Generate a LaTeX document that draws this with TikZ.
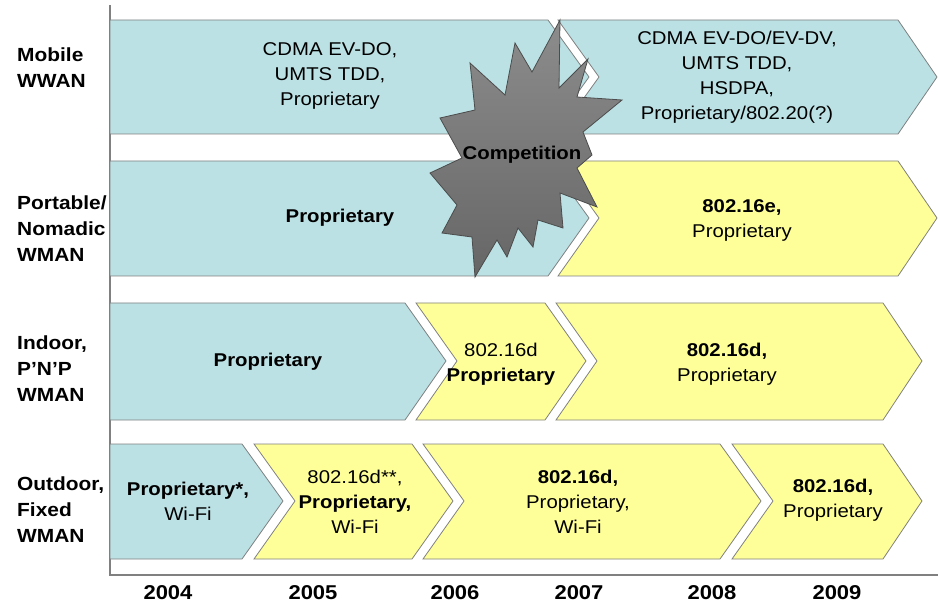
\documentclass[tikz,border=0pt]{standalone}
\usepackage{fontspec}
\setmainfont[FakeStretch=1.1]{Liberation Sans}

\definecolor{techblue}{RGB}{187,225,228}
\definecolor{techyellow}{RGB}{255,255,153}
\definecolor{edgegray}{RGB}{128,128,128}

\begin{document}
\begin{tikzpicture}[x=1pt, y=-1pt,
  bluebox/.style={fill=techblue, draw=edgegray, line width=0.8pt},
  yellowbox/.style={fill=techyellow, draw=edgegray, line width=0.8pt},
  boxtext/.style={align=center, inner sep=0pt, font=\fontsize{18.5}{25}\selectfont},
  rowlabel/.style={anchor=west, align=left, inner sep=0pt, font=\bfseries\fontsize{19}{26}\selectfont},
  yearlabel/.style={inner sep=0pt, font=\bfseries\fontsize{20}{24}\selectfont}]

\useasboundingbox (0,0) rectangle (938,604);

% Axes
\draw[edgegray, line width=1.5pt] (110,5) -- (110,575) -- (938,575);

% Mobile WWAN
\draw[bluebox] (110,20) -- (548,20) -- (589,77) -- (548,134) -- (110,134) -- cycle;
\draw[bluebox] (558,20) -- (898,20) -- (937,77) -- (898,134) -- (558,134) -- (599,77) -- cycle;

% Portable/Nomadic WMAN
\draw[bluebox] (110,161) -- (548,161) -- (589,218) -- (548,276) -- (110,276) -- cycle;
\draw[yellowbox] (558,161) -- (898,161) -- (937,218) -- (898,276) -- (558,276) -- (599,218) -- cycle;

% Indoor, P'N'P WMAN
\draw[bluebox] (110,303) -- (405,303) -- (446,361) -- (405,420) -- (110,420) -- cycle;
\draw[yellowbox] (416,303) -- (545,303) -- (586,361) -- (545,420) -- (416,420) -- (457,361) -- cycle;
\draw[yellowbox] (556,303) -- (883,303) -- (922,361) -- (883,420) -- (556,420) -- (597,361) -- cycle;

% Outdoor, Fixed WMAN
\draw[bluebox] (110,444) -- (242,444) -- (283,501) -- (242,559) -- (110,559) -- cycle;
\draw[yellowbox] (254,444) -- (412,444) -- (453,501) -- (412,559) -- (254,559) -- (295,501) -- cycle;
\draw[yellowbox] (423,444) -- (720,444) -- (761,501) -- (720,559) -- (423,559) -- (464,501) -- cycle;
\draw[yellowbox] (732,444) -- (883,444) -- (922,501) -- (883,559) -- (732,559) -- (773,501) -- cycle;

% Competition burst
\draw[draw=gray!60!black, line width=0.8pt, top color=gray!90, middle color=gray!6, bottom color=gray!80!black]
  (560,20) -- (559,88) -- (588,59) -- (577,97) -- (622,100) -- (583,132) -- (592,155)
  -- (577,168) -- (597,207) -- (560,193) -- (563,228) -- (538,220) -- (533,247)
  -- (518,228) -- (507,257) -- (497,240) -- (475,277) -- (472,237) -- (442,233)
  -- (457,205) -- (430,173) -- (462,158) -- (440,118) -- (475,110) -- (470,63)
  -- (505,95) -- (515,43) -- (532,72) -- cycle;

% Texts in the arrows
\node[boxtext] (mobA) at (330,76) {CDMA EV-DO,\\UMTS TDD,\\Proprietary};
\node[boxtext] (mobB) at (737,77) {CDMA EV-DO/EV-DV,\\UMTS TDD,\\HSDPA,\\Proprietary/802.20(?)};
\node[boxtext] (portA) at (340,218) {\bfseries Proprietary};
\node[boxtext] (portB) at (742,220) {{\bfseries 802.16e,}\\Proprietary};
\node[boxtext] (indA) at (268,362) {\bfseries Proprietary};
\node[boxtext] (indB) at (501,364) {802.16d\\{\bfseries Proprietary}};
\node[boxtext] (indC) at (727,364) {{\bfseries 802.16d,}\\Proprietary};
\node[boxtext] (outA) at (188,501) {{\bfseries Proprietary*,}\\Wi-Fi};
\node[boxtext] (outB) at (355,502) {802.16d**,\\{\bfseries Proprietary,}\\Wi-Fi};
\node[boxtext] (outC) at (578,502) {{\bfseries 802.16d,}\\Proprietary,\\Wi-Fi};
\node[boxtext] (outD) at (833,500) {{\bfseries 802.16d,}\\Proprietary};
\node[boxtext, font=\bfseries\fontsize{18.5}{25}\selectfont] (comp) at (522,155) {Competition};

% Row labels
\node[rowlabel] (lblMobile) at (17,68) {Mobile\\WWAN};
\node[rowlabel] (lblPortable) at (17,229) {Portable/\\Nomadic\\WMAN};
\node[rowlabel] (lblIndoor) at (17,369) {Indoor,\\P’N’P\\WMAN};
\node[rowlabel] (lblOutdoor) at (17,510) {Outdoor,\\Fixed\\WMAN};

% Years
\node[yearlabel] (y2004) at (168,593) {2004};
\node[yearlabel] (y2005) at (313,593) {2005};
\node[yearlabel] (y2006) at (455,593) {2006};
\node[yearlabel] (y2007) at (579,593) {2007};
\node[yearlabel] (y2008) at (712,593) {2008};
\node[yearlabel] (y2009) at (837,593) {2009};

\end{tikzpicture}
\end{document}
